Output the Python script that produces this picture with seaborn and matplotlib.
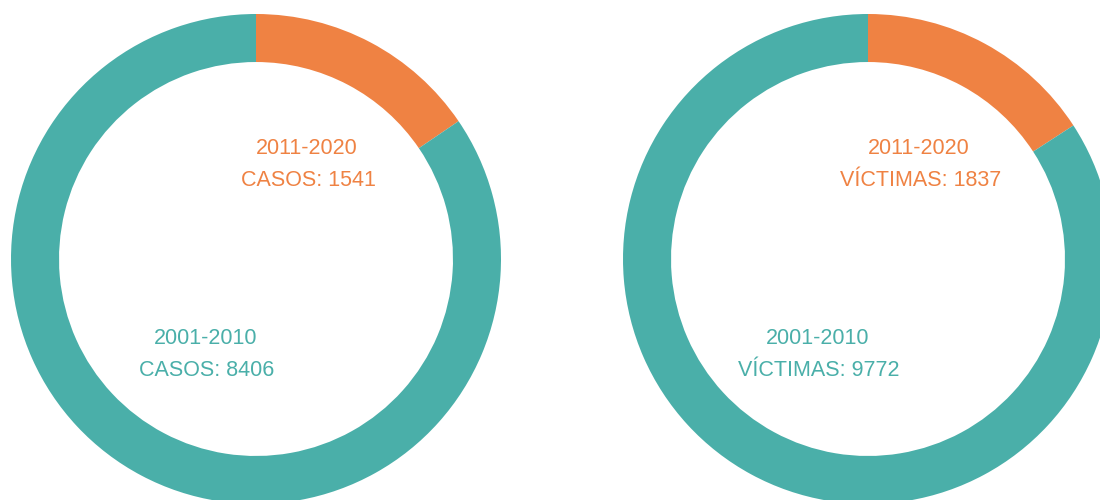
import matplotlib
matplotlib.use("Agg")
import matplotlib.pyplot as plt
import seaborn as sns

# data
periods = ["2011-2020", "2001-2010"]
casos = [1541, 8406]
victimas = [1837, 9772]
metric_labels = ["CASOS", "VÍCTIMAS"]

teal = "#4AAFA9"
orange = "#EF8243"
colors = [orange, teal]

sns.set_theme(style="white")
plt.rcParams['font.family'] = ['Liberation Sans', 'DejaVu Sans']

W, H = 1100, 500
fig = plt.figure(figsize=(W / 100, H / 100), dpi=100)
fig.patch.set_facecolor("white")

R = 245  # outer radius in px
centers = [(256, 259), (868, 259)]

for (cx, cy), values, name in zip(centers, [casos, victimas], metric_labels):
    ax = fig.add_axes([(cx - R) / W, (H - cy - R) / H, 2 * R / W, 2 * R / H])
    ax.pie(values, colors=colors, startangle=90, counterclock=False, radius=1,
           wedgeprops=dict(width=0.196, edgecolor="none"))
    ax.set_xlim(-1, 1)
    ax.set_ylim(-1, 1)
    ax.set_aspect("equal")
    ax.axis("off")

    # labels, upper-right for recent decade, lower-left for earlier
    ax.text(0.207, 0.449, periods[0], color=orange, fontsize=15.5, ha="center", va="center")
    ax.text(0.215, 0.320, f"{name}: {values[0]}", color=orange, fontsize=15.5, ha="center", va="center")
    ax.text(-0.207, -0.326, periods[1], color=teal, fontsize=15.5, ha="center", va="center")
    ax.text(-0.2, -0.455, f"{name}: {values[1]}", color=teal, fontsize=15.5, ha="center", va="center")

fig.savefig("out.png", dpi=100, facecolor="white")
